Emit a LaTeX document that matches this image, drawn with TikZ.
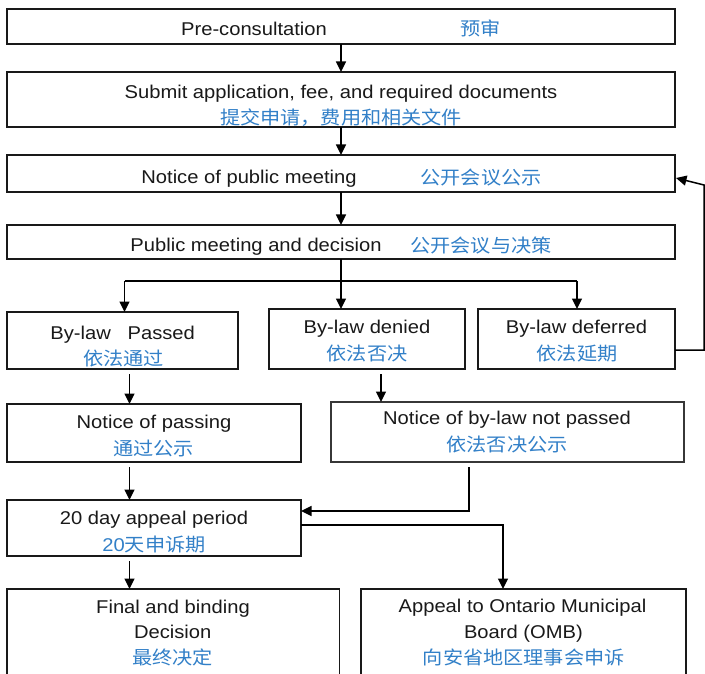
\documentclass[tikz,border=0pt]{standalone}
\usepackage{fontspec}
\setmainfont{Liberation Sans}[FakeStretch=1.09]
\newfontfamily\cjk{Noto Sans CJK SC}[FakeStretch=1.09]
\usetikzlibrary{arrows.meta}
\definecolor{cnblue}{RGB}{50,128,200}
\definecolor{edge}{RGB}{25,25,25}
\definecolor{edgegray}{RGB}{55,55,55}
\begin{document}
\begin{tikzpicture}[x=1pt,y=-1pt,
  box/.style={draw=edge, line width=1.8pt, inner sep=0pt, outer sep=0pt},
  en/.style={anchor=base, inner sep=0pt, font=\fontsize{18.5}{22}\selectfont, text=black!90},
  cn/.style={anchor=base, inner sep=0pt, font=\fontsize{18.5}{22}\selectfont\cjk, text=cnblue},
  arr/.style={draw=black, line width=1.5pt, -{Triangle[length=10.5pt,width=10pt]}},
  ln/.style={draw=black, line width=1.5pt}]
\useasboundingbox (0,0) rectangle (705,674);
\clip (0,0) rectangle (705,674);
\fill[white] (0,0) rectangle (705,674);

% boxes
\node[box, minimum width=668pt, minimum height=35pt] (pre) at (341,26.5) {};
\node[box, minimum width=668pt, minimum height=55pt] (submit) at (341,99.5) {};
\node[box, minimum width=668pt, minimum height=37pt] (notice) at (341,173.5) {};
\node[box, minimum width=668pt, minimum height=34pt] (pubmeet) at (341,242) {};
\node[box, minimum width=231pt, minimum height=57pt] (passed) at (122.5,340.5) {};
\node[box, minimum width=196pt, minimum height=60pt] (denied) at (367,339) {};
\node[box, minimum width=197pt, minimum height=60pt] (deferred) at (576.5,339) {};
\node[box, minimum width=294pt, minimum height=58pt] (npass) at (154,433) {};
\node[box, draw=edgegray, line width=2pt, minimum width=353pt, minimum height=60pt] (nnot) at (507,432) {};
\node[box, minimum width=294pt, minimum height=56pt] (appealp) at (154,528) {};
\node[box, minimum width=332.5pt, minimum height=111pt] (final) at (173.25,644.5) {};
\node[box, minimum width=325pt, minimum height=111pt] (omb) at (523.5,644.5) {};

% texts
\node[en] (t1a) at (254,35.7) {Pre-consultation};
\node[cn] (t1b) at (480.5,36) {预审};
\node[en] (t2a) at (341,99) {Submit application, fee, and required documents};
\node[cn] (t2b) at (341,125) {提交申请，费用和相关文件};
\node[en] (t3a) at (249,183.7) {Notice of public meeting};
\node[cn] (t3b) at (481,184.5) {公开会议公示};
\node[en] (t4a) at (256,251.3) {Public meeting and decision};
\node[cn] (t4b) at (481,252) {公开会议与决策};
\node[en] (t5a) at (122.6,339.3) {By-law~~~Passed};
\node[cn] (t5b) at (123.6,365) {依法通过};
\node[en] (t6a) at (367,333.3) {By-law denied};
\node[cn] (t6b) at (367,360) {依法否决};
\node[en] (t7a) at (576.5,333.3) {By-law deferred};
\node[cn] (t7b) at (577,360) {依法延期};
\node[en] (t8a) at (154,428) {Notice of passing};
\node[cn] (t8b) at (153.8,455) {通过公示};
\node[en] (t9a) at (507,424.5) {Notice of by-law not passed};
\node[cn] (t9b) at (507,451.5) {依法否决公示};
\node[en] (t10a) at (154,524.5) {20 day appeal period};
\node[cn] (t10b) at (154,551.5) {{\fontspec{Liberation Sans}[FakeStretch=1.09]20}天申诉期};
\node[en] (t11a) at (173,613.5) {Final and binding};
\node[en] (t11b) at (172.7,638.5) {Decision};
\node[cn] (t11c) at (172.7,664.5) {最终决定};
\node[en] (t12a) at (522.5,612.5) {Appeal to Ontario Municipal};
\node[en] (t12b) at (523.4,638.5) {Board (OMB)};
\node[cn] (t12c) at (523.8,664) {向安省地区理事会申诉};

% connectors
\draw[arr] (pre.south) -- (submit.north);
\draw[arr] (submit.south) -- (notice.north);
\draw[arr] (notice.south) -- (pubmeet.north);
\draw[arr] (pubmeet.south) -- (pubmeet.south |- denied.north);
\coordinate (bl) at (124.5,281);
\coordinate (br) at (577,281);
\draw[ln] (bl) -- (br);
\draw[arr] (bl) -- (bl |- passed.north);
\draw[arr] (br) -- (br |- deferred.north);
\coordinate (fb1) at (704,350);
\coordinate (fb2) at (704,185);
\coordinate (fbend) at (676,178);
\draw[arr] (deferred.east |- fb1) -- (fb1) -- (fb2) -- (fbend);
\draw[arr, shorten <=5pt] ([xshift=7pt]passed.south) -- ([xshift=7pt]passed.south |- npass.north);
\draw[arr, shorten <=5pt] ([xshift=14pt]denied.south) -- ([xshift=14pt]denied.south |- nnot.north);
\draw[arr, shorten <=5pt] ([xshift=-24.5pt]npass.south) -- ([xshift=-24.5pt]npass.south |- appealp.north);
\draw[arr, shorten <=5pt] ([xshift=-38pt]nnot.south) |- ([yshift=17pt]appealp.east);
\draw[arr] ([yshift=3pt]appealp.east) -| ([xshift=-20.5pt]omb.north);
\draw[arr, shorten <=5pt] ([xshift=-24.5pt]appealp.south) -- ([xshift=-24.5pt]appealp.south |- final.north);
\end{tikzpicture}
\end{document}
